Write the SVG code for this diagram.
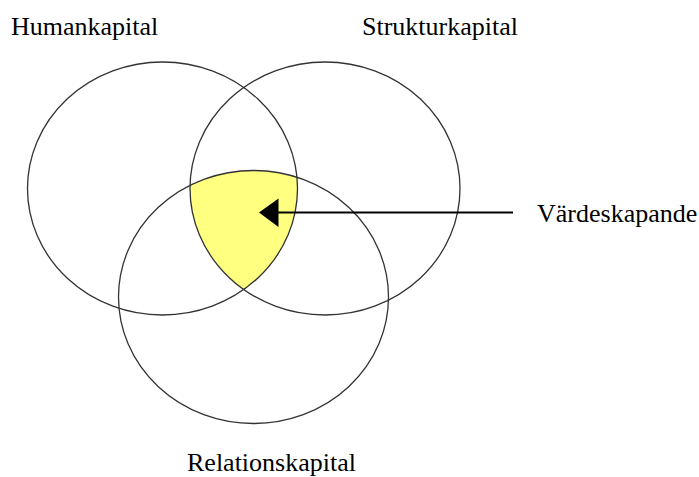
<svg xmlns="http://www.w3.org/2000/svg" width="699" height="477" viewBox="0 0 699 477">
<style>
.c{fill:none;stroke:#333;stroke-width:1.3}
.t{font-family:"Liberation Serif","Times New Roman",serif;font-size:26px;fill:#000}
</style>
<defs>
<clipPath id="clipL"><ellipse cx="162.5" cy="188.5" rx="135" ry="126.5"/></clipPath>
<clipPath id="clipR"><ellipse cx="325" cy="188.5" rx="135" ry="126.5"/></clipPath>
</defs>
<g id="overlap">
<g clip-path="url(#clipL)"><g clip-path="url(#clipR)"><ellipse cx="253.5" cy="297" rx="135" ry="126.5" fill="#ffff80"/></g></g>
</g>
<g id="humankapital">
<ellipse class="c" cx="162.5" cy="188.5" rx="135" ry="126.5"/>
<text class="t" x="11" y="35">Humankapital</text>
</g>
<g id="strukturkapital">
<ellipse class="c" cx="325" cy="188.5" rx="135" ry="126.5"/>
<text class="t" x="362" y="35">Strukturkapital</text>
</g>
<g id="relationskapital">
<ellipse class="c" cx="253.5" cy="297" rx="135" ry="126.5"/>
<text class="t" x="187" y="471">Relationskapital</text>
</g>
<g id="vardeskapande">
<text class="t" x="537" y="222">Värdeskapande</text>
</g>
<g id="connectors">
<line x1="513" y1="212.5" x2="277" y2="212.5" stroke="#000" stroke-width="2"/>
<polygon points="259,212.5 278.5,198.5 278.5,227" fill="#000"/>
</g>
</svg>
